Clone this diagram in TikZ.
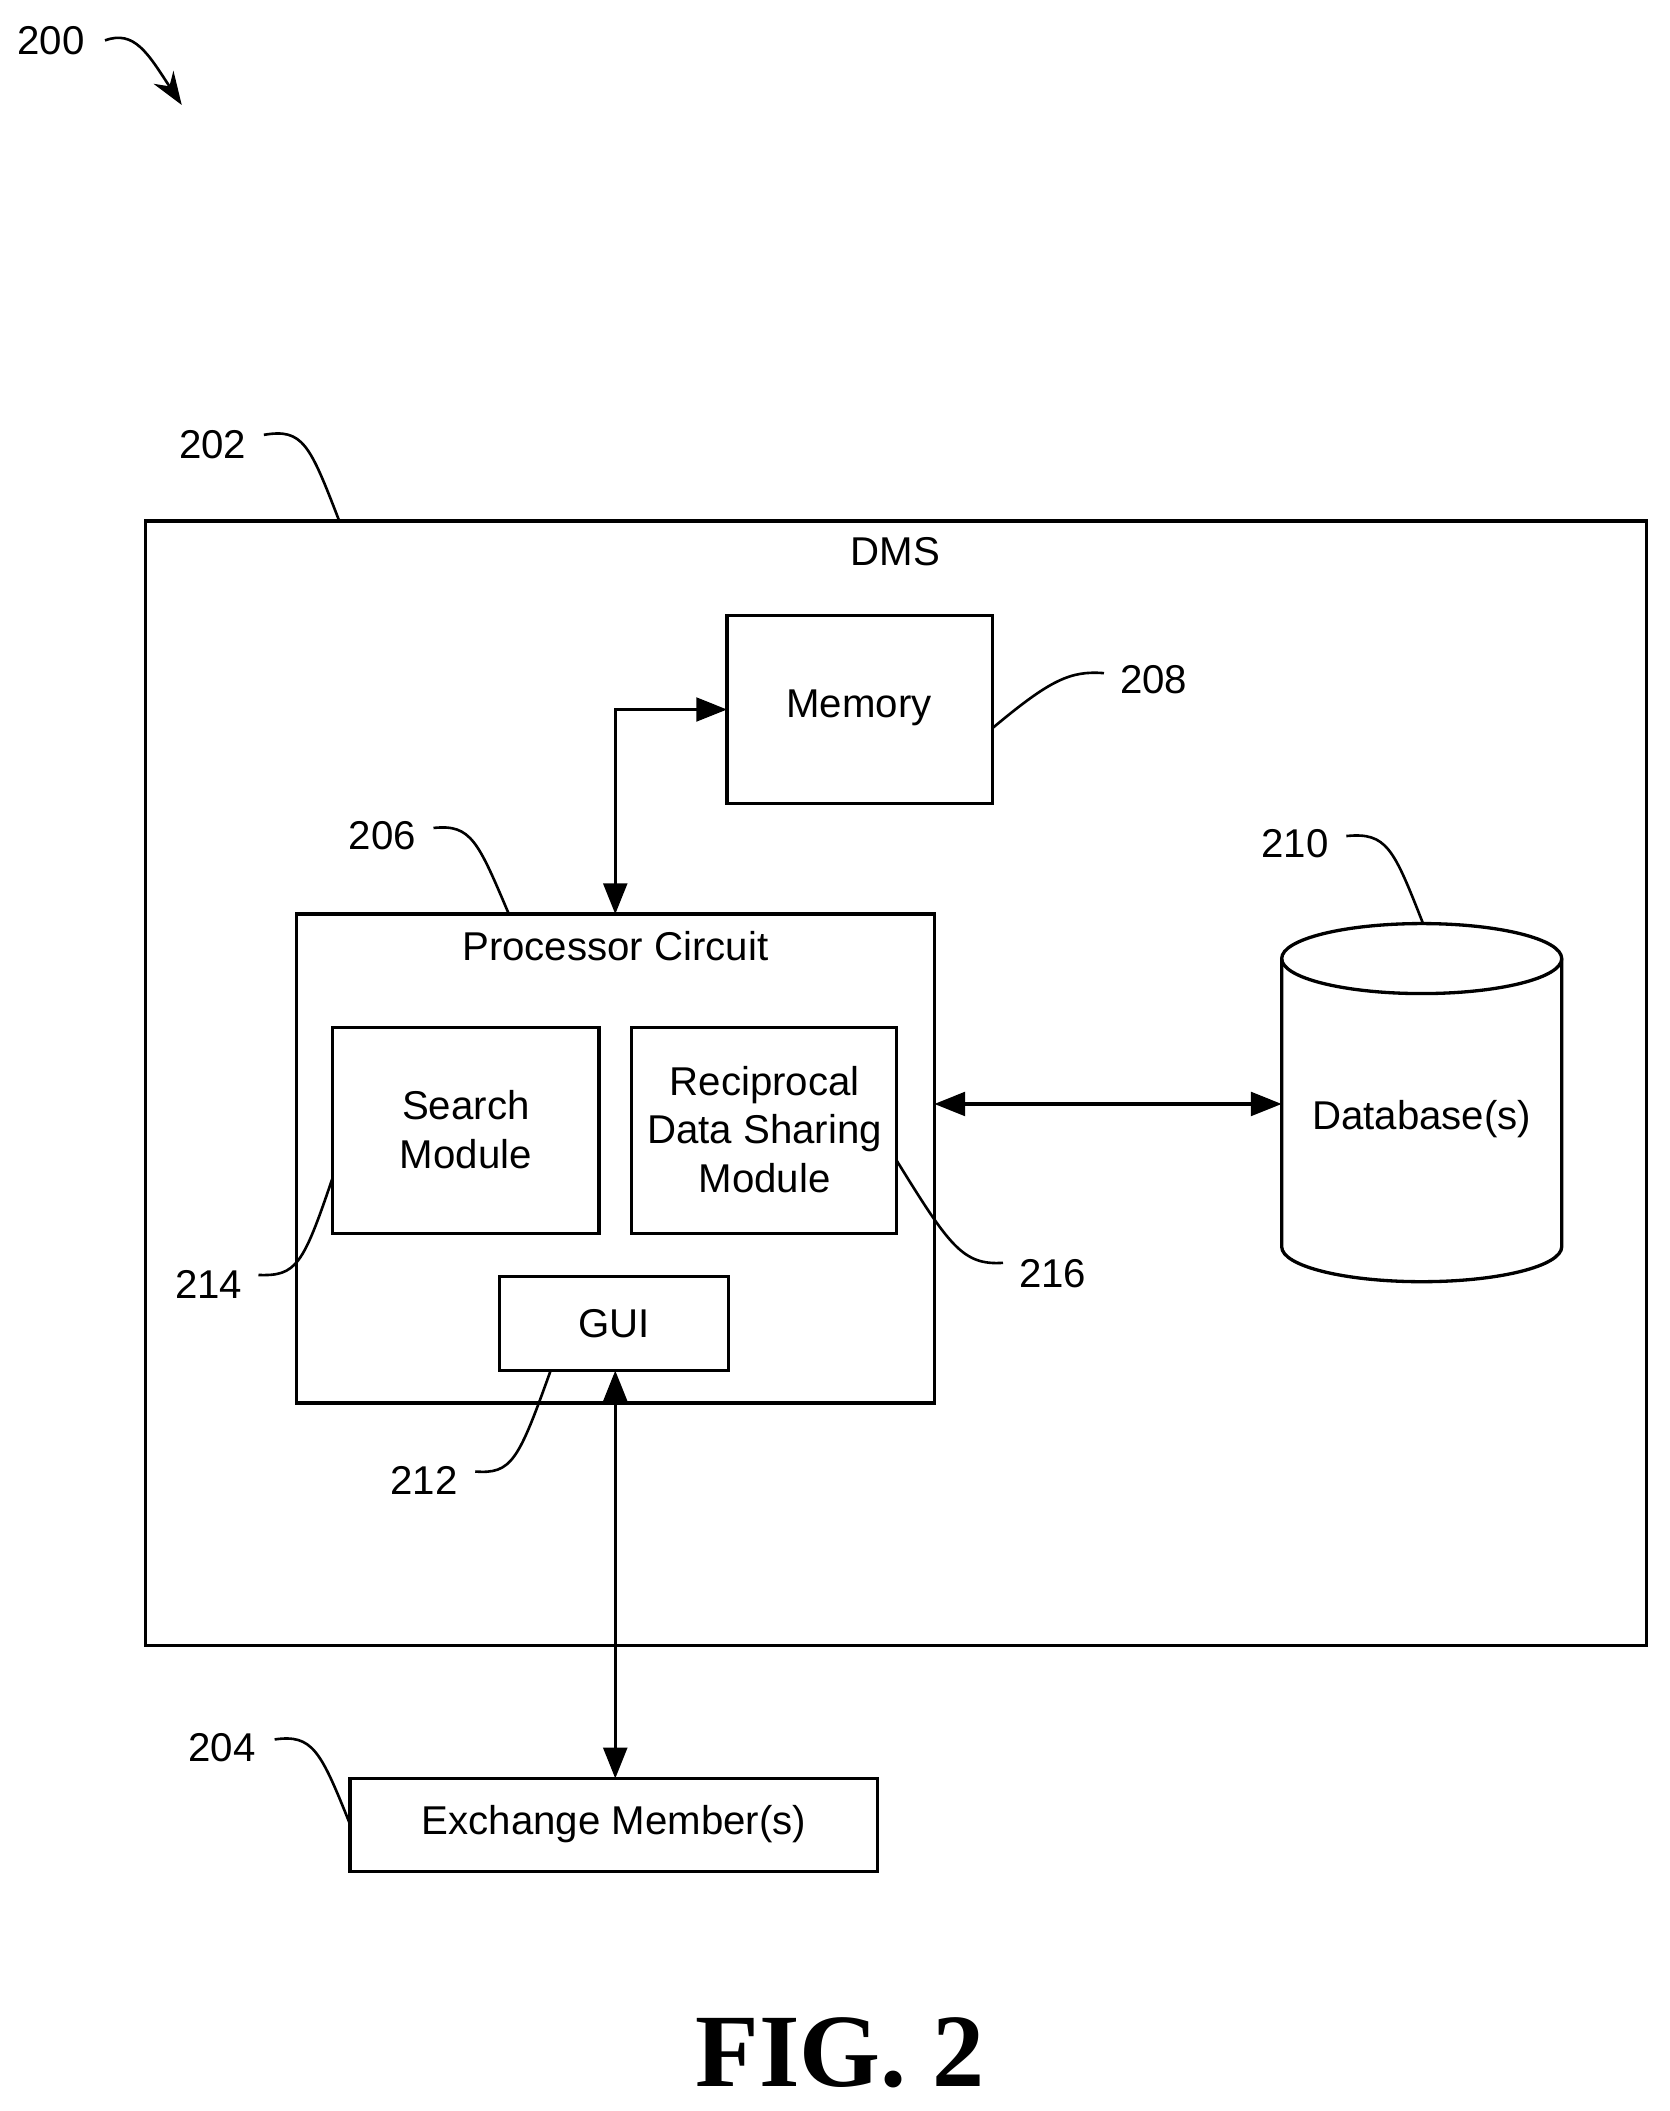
\documentclass[tikz,border=0pt]{standalone}
\usepackage{fontspec}
\setmainfont{Liberation Sans}
\newfontfamily\figfont{Liberation Serif}
\usetikzlibrary{arrows.meta,shapes.geometric}
\begin{document}
\begin{tikzpicture}[x=0.02cm,y=-0.02cm,
 every node/.style={font=\fontsize{17}{20.5}\selectfont,align=center},
 box/.style={draw,line width=1.4pt},
 ar/.style={line width=1.4pt,{Triangle[length=13pt,width=10pt]}-{Triangle[length=13pt,width=10pt]}},
 ld/.style={line width=1.1pt}]
\useasboundingbox (0,0) rectangle (1240,1568);
\draw[box] (108,387) rectangle (1223,1222);
\node (dms) at (665,410) {DMS};
\draw[box] (540,457) rectangle (737,597);
\node (mem) at (638,526) {Memory};
\coordinate (memw) at (540,527);
\draw[box] (220,679) rectangle (694,1042);
\node (proc) at (457,703) {Processor Circuit};
\coordinate (proct) at (457,679);
\coordinate (proce) at (694,820);
\draw[box] (247,763) rectangle (445,916);
\node (srch) at (346,839) {Search\\Module};
\draw[box] (469,763) rectangle (666,916);
\node (rds) at (568,839) {Reciprocal\\Data Sharing\\Module};
\draw[box] (371,948) rectangle (541,1018);
\node (gui) at (456,983) {GUI};
\coordinate (guib) at (457,1018);
\draw[box] (260,1321) rectangle (652,1390);
\node (ex) at (456,1355) {Exchange Member(s)};
\coordinate (ext) at (457,1321);
% database
\draw[box] (952,712) -- (952,926) arc[start angle=180,end angle=0,x radius=104,y radius=26] -- (1160,712);
\draw[box] (1056,712) ellipse[x radius=104,y radius=26];
\node (db) at (1056,831) {Database(s)};
\coordinate (dbw) at (952,820);
\draw[ar] (proct) -- (457,527) -- (memw);
\draw[ar] (proce) -- (dbw);
\draw[ar] (guib) -- (ext);
% labels
\node (l200) at (38,30) {200};
\draw[ld,-{Stealth[length=14pt,width=10pt]}] (78,30) .. controls (100,22) and (110,40) .. (135,78);
\node (l202) at (158,330) {202};
\draw[ld] (196,323) .. controls (225,318) and (230,330) .. (252,387);
\node (l208) at (857,505) {208};
\draw[ld] (820,500) .. controls (795,498) and (780,505) .. (737,541);
\node (l206) at (284,621) {206};
\draw[ld] (322,615) .. controls (350,612) and (355,625) .. (378,679);
\node (l210) at (962,627) {210};
\draw[ld] (1000,621) .. controls (1030,618) and (1035,630) .. (1057,686);
\node (l214) at (155,954) {214};
\draw[ld] (192,947) .. controls (220,948) and (225,940) .. (247,875);
\node (l216) at (782,946) {216};
\draw[ld] (745,938) .. controls (715,940) and (705,925) .. (666,862);
\node (l212) at (315,1100) {212};
\draw[ld] (353,1093) .. controls (380,1095) and (385,1085) .. (409,1018);
\node (l204) at (165,1298) {204};
\draw[ld] (204,1292) .. controls (232,1288) and (238,1300) .. (260,1355);
\node[font=\figfont\bfseries\fontsize{44}{50}\selectfont] (fig) at (624,1525) {FIG. 2};
\end{tikzpicture}
\end{document}
